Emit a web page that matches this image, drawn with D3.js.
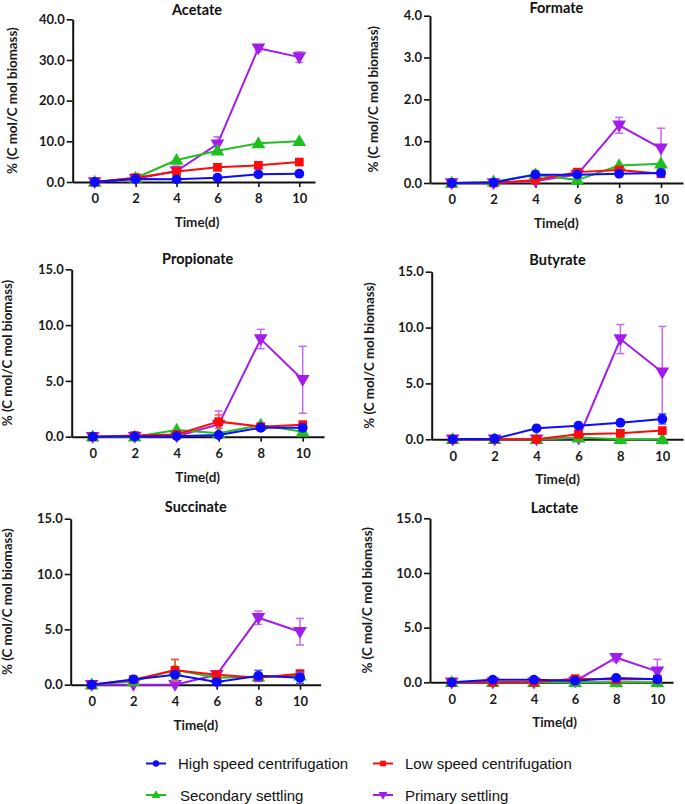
<!DOCTYPE html>
<html><head><meta charset="utf-8">
<script src="https://cdn.jsdelivr.net/npm/d3@7"></script>
<style>
html,body{margin:0;padding:0;background:#fff;}
svg{display:block;}
</style></head>
<body>
<svg id="chart" width="685" height="804"></svg>
<script>
// ---------- DATA ----------
const days = [0, 2, 4, 6, 8, 10];
const seriesNames = ["High speed centrifugation", "Low speed centrifugation", "Secondary settling", "Primary settling"];
const panelTitles = ["Acetate", "Formate", "Propionate", "Butyrate", "Succinate", "Lactate"];
const yMaxes = [40, 4, 15, 15, 15, 15];
const yTickLabels = [
  [0, 10, 20, 30, 40],
  [0, 1, 2, 3, 4],
  [0, 5, 10, 15],
  [0, 5, 10, 15],
  [0, 5, 10, 15],
  [0, 5, 10, 15]
];
// values: [high, low, secondary, primary]
const acetateValues = [
  [0, 0.74, 0.65, 1.07, 1.9, 2.05],
  [0, 1.07, 2.6, 3.6, 4.1, 4.9],
  [0, 1.0, 5.4, 7.7, 9.5, 10.0],
  [0, 0.8, 2.7, 9.3, 32.9, 30.7]
];
const acetateErrors = [
  [0, 0, 0, 0, 0, 0],
  [0, 0, 0, 0, 0, 0],
  [0, 0, 0, 0, 0, 0],
  [0, 0, 1.2, 1.8, 0.7, 1.3]
];
const formateValues = [
  [0, 0.01, 0.2, 0.2, 0.22, 0.24],
  [0, 0, 0.07, 0.26, 0.31, 0.22],
  [0, 0.03, 0.2, 0.07, 0.42, 0.46],
  [0, 0, 0.05, 0.2, 1.38, 0.83]
];
const formateErrors = [
  [0, 0, 0, 0, 0, 0],
  [0, 0, 0, 0, 0, 0],
  [0, 0, 0.1, 0, 0, 0],
  [0, 0, 0, 0, 0.19, 0.48]
];
const propionateValues = [
  [0, 0.02, 0.05, 0.15, 0.8, 0.8],
  [0, 0.1, 0.2, 1.35, 0.9, 1.08],
  [0, 0, 0.6, 0.3, 1.05, 0.45],
  [0, 0, 0.05, 1.1, 8.75, 5.1]
];
const propionateErrors = [
  [0, 0, 0, 0, 0, 0.2],
  [0, 0, 0, 0.6, 0, 0],
  [0, 0, 0, 0, 0, 0.2],
  [0, 0, 0, 1.2, 0.87, 3.0]
];
const butyrateValues = [
  [0, 0.05, 0.98, 1.22, 1.49, 1.82],
  [0, 0, 0, 0.45, 0.54, 0.78],
  [0, 0, 0, 0.15, 0, 0],
  [0, 0, 0, 0.1, 8.97, 6.0]
];
const butyrateErrors = [
  [0, 0, 0, 0, 0, 0.45],
  [0, 0, 0, 0, 0, 0],
  [0, 0, 0, 0, 0, 0],
  [0, 0, 0, 0, 1.3, 4.1]
];
const succinateValues = [
  [0, 0.48, 0.9, 0.24, 0.8, 0.63],
  [0, 0.45, 1.3, 0.9, 0.63, 1.0],
  [0, 0.3, 1.35, 0.63, 0.72, 0.8],
  [0, 0, 0, 0.9, 6.05, 4.79]
];
const succinateErrors = [
  [0, 0, 0, 0, 0.5, 0.5],
  [0, 0, 1.0, 0.3, 0, 0],
  [0, 0, 0.9, 0, 0, 0],
  [0, 0, 0, 0, 0.6, 1.2]
];
const lactateValues = [
  [0, 0.24, 0.24, 0.15, 0.4, 0.28],
  [0, 0, 0, 0.33, 0.25, 0.3],
  [0, 0, 0, 0, 0, 0],
  [0, 0, 0, 0.1, 2.25, 1.0]
];
const lactateErrors = [
  [0, 0, 0, 0, 0, 0],
  [0, 0, 0, 0.2, 0, 0],
  [0, 0, 0, 0, 0, 0],
  [0, 0, 0, 0, 0.35, 1.1]
];
const yAxisTitle = "% (C mol/C mol biomass)";
const xAxisTitle = "Time(d)";

// ---------- STYLE / LAYOUT ----------
const colors = ["#0b0bff", "#ff0a0a", "#1fbf1f", "#a41cec"];
const errColors = ["#5555ff", "#ff5555", "#55cc55", "#c46af2"];
const symbols = ["circle", "square", "triUp", "triDown"];
const layout = [
  {ax: 72.7, yTop: 19.3, y0: 182, x0: 94.7, x10: 299.3, xEnd: 315, lblDx: -61, titleY: 14.5},
  {ax: 430, yTop: 15.7, y0: 183, x0: 451.7, x10: 661, xEnd: 683, lblDx: -57, titleY: 12.5},
  {ax: 71.7, yTop: 269.3, y0: 436.7, x0: 92.7, x10: 302.7, xEnd: 324, lblDx: -65, titleY: 264},
  {ax: 431.7, yTop: 271.7, y0: 439.3, x0: 452.7, x10: 662.3, xEnd: 683, lblDx: -63, titleY: 265},
  {ax: 70.7, yTop: 518.7, y0: 684.7, x0: 91.7, x10: 300, xEnd: 320.7, lblDx: -64, titleY: 512},
  {ax: 430, yTop: 518.3, y0: 682.3, x0: 451.7, x10: 657.3, xEnd: 673, lblDx: -63, titleY: 513}
];
const allValues = [acetateValues, formateValues, propionateValues, butyrateValues, succinateValues, lactateValues];
const allErrors = [acetateErrors, formateErrors, propionateErrors, butyrateErrors, succinateErrors, lactateErrors];

const FONT = "Lato, 'Open Sans', sans-serif";
const svg = d3.select("#chart");

function drawMarker(g, type, x, y, color, scale) {
  scale = scale || 1;
  let sym;
  if (type === "circle") sym = d3.symbol(d3.symbolCircle, 76 * scale * scale);
  else if (type === "square") sym = d3.symbol(d3.symbolSquare, 76 * scale * scale);
  else sym = d3.symbol(d3.symbolTriangle, 82 * scale * scale);
  const rot = type === "triDown" ? 180 : 0;
  const dy = type === "triUp" ? 0.8 * scale : (type === "triDown" ? -0.8 * scale : 0);
  g.append("path").attr("d", sym())
    .attr("transform", `translate(${x},${y + dy}) rotate(${rot})`)
    .attr("fill", color);
}

panelTitles.forEach((title, pi) => {
  const L = layout[pi];
  const xs0 = d3.scaleLinear().domain([0, 10]).range([L.x0, L.x10]);
  const x = d3.scaleLinear().domain([xs0.invert(L.ax), xs0.invert(L.xEnd)]).range([L.ax, L.xEnd]);
  const y = d3.scaleLinear().domain([0, yMaxes[pi]]).range([L.y0, L.yTop]);
  const g = svg.append("g");

  const yAxis = d3.axisLeft(y).tickValues(yTickLabels[pi]).tickFormat(d3.format(".1f"))
    .tickSize(6).tickPadding(2).tickSizeOuter(0);
  const yg = g.append("g").attr("transform", `translate(${L.ax},0)`).call(yAxis);
  const xAxis = d3.axisBottom(x).tickValues(days).tickFormat(d3.format("d"))
    .tickSize(5).tickPadding(7).tickSizeOuter(0);
  const xg = g.append("g").attr("transform", `translate(0,${L.y0})`).call(xAxis);
  [yg, xg].forEach(a => {
    a.selectAll("path.domain").attr("stroke", "#111").attr("stroke-width", 2);
    a.selectAll(".tick line").attr("stroke", "#111").attr("stroke-width", 1.6);
    a.selectAll(".tick text").attr("font-family", FONT).attr("font-weight", 700)
      .attr("font-size", 13).attr("fill", "#1a1a1a");
  });

  g.append("text").attr("x", (L.x0 + L.x10) / 2).attr("y", L.titleY)
    .attr("text-anchor", "middle").attr("font-family", FONT).attr("font-weight", 700)
    .attr("font-size", 14.5).attr("fill", "#111").text(title);
  g.append("text").attr("x", (L.x0 + L.x10) / 2).attr("y", L.y0 + 45)
    .attr("text-anchor", "middle").attr("font-family", FONT).attr("font-weight", 700)
    .attr("font-size", 13.5).attr("fill", "#1a1a1a").text(xAxisTitle);
  const cy = (L.yTop + L.y0) / 2;
  g.append("text").attr("transform", `translate(${L.ax + L.lblDx},${cy}) rotate(-90)`)
    .attr("text-anchor", "middle").attr("dominant-baseline", "central")
    .attr("font-family", FONT).attr("font-weight", 700)
    .attr("font-size", 13.3).attr("fill", "#1a1a1a").text(yAxisTitle);

  const order = [3, 2, 1, 0];
  order.forEach(si => {
    const vals = allValues[pi][si];
    const errs = allErrors[pi][si];
    const sg = g.append("g");
    days.forEach((d, i) => {
      const e = errs[i];
      if (!e) return;
      const cx = x(d);
      const yHi = y(vals[i] + e), yLo = y(Math.max(0, vals[i] - e));
      sg.append("line").attr("x1", cx).attr("x2", cx).attr("y1", yHi).attr("y2", yLo)
        .attr("stroke", errColors[si]).attr("stroke-width", 1.5);
      [yHi, yLo].forEach(yy => sg.append("line").attr("x1", cx - 4).attr("x2", cx + 4)
        .attr("y1", yy).attr("y2", yy).attr("stroke", errColors[si]).attr("stroke-width", 1.5));
    });
    const line = d3.line().x((d, i) => x(days[i])).y(d => y(d));
    sg.append("path").attr("d", line(vals)).attr("fill", "none")
      .attr("stroke", colors[si]).attr("stroke-width", 2);
    vals.forEach((v, i) => drawMarker(sg, symbols[si], x(days[i]), y(v), colors[si]));
  });
});

const legendItems = [
  {si: 0, lx: 146, tx: 178, y: 763.5},
  {si: 1, lx: 373, tx: 405, y: 763.5},
  {si: 2, lx: 146, tx: 180, y: 795},
  {si: 3, lx: 373, tx: 405, y: 795}
];
const lg = svg.append("g");
legendItems.forEach(it => {
  lg.append("line").attr("x1", it.lx).attr("x2", it.lx + 20).attr("y1", it.y).attr("y2", it.y)
    .attr("stroke", colors[it.si]).attr("stroke-width", 2);
  drawMarker(lg, symbols[it.si], it.lx + 10, it.y, colors[it.si], 0.65);
  lg.append("text").attr("x", it.tx).attr("y", it.y).attr("dominant-baseline", "central")
    .attr("font-family", "'Liberation Sans', Arial, sans-serif").attr("font-size", 15)
    .attr("fill", "#111").text(seriesNames[it.si]);
});
</script>
</body></html>
